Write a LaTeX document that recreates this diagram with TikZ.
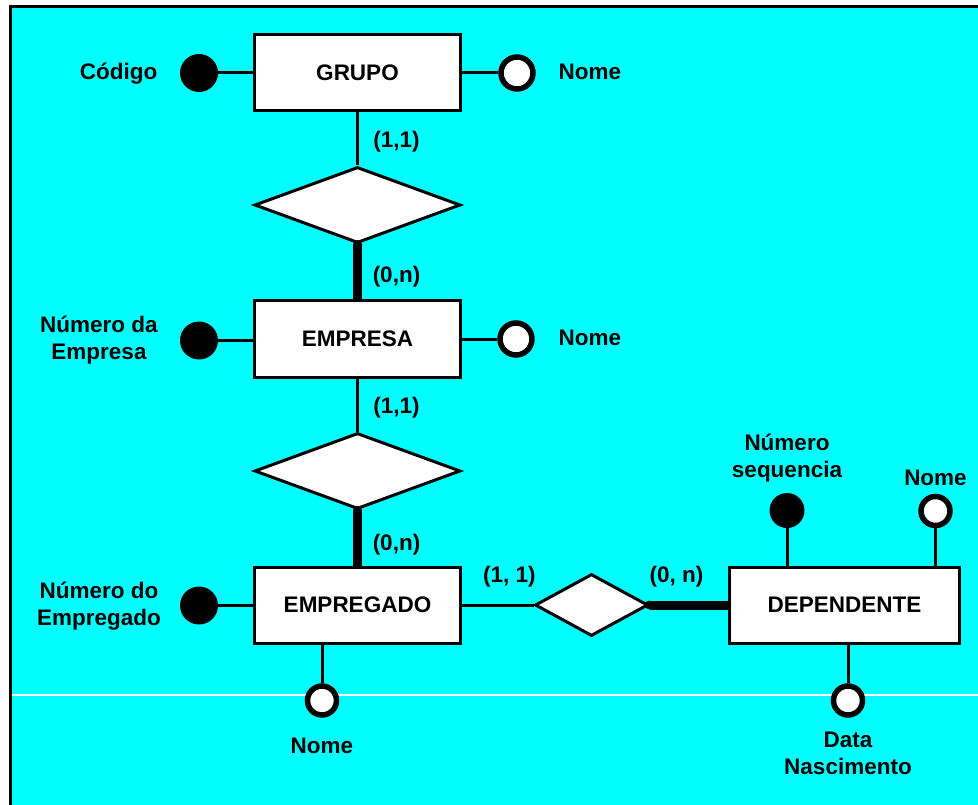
\documentclass[tikz,border=0pt]{standalone}
\usepackage{fontspec}
\setmainfont{Liberation Sans}
\usetikzlibrary{shapes.geometric}
\definecolor{canvas}{RGB}{0,255,255}
\newcommand{\stacked}[2]{\begin{tabular}[t]{@{}c@{}}#1\\#2\end{tabular}}

\begin{document}
\begin{tikzpicture}[x=1pt,y=-1pt,
  every node/.style={font=\fontsize{22.5}{27}\selectfont\bfseries, inner sep=0pt},
  entity/.style={draw, line width=3pt, fill=white, minimum height=76pt},
  relation/.style={draw, diamond, line width=3pt, fill=white},
  keyattr/.style={circle, fill=black, minimum size=#1},
  plainattr/.style={circle, draw, line width=5.5pt, fill=white, minimum size=#1},
  link/.style={line width=3pt},
  heavylink/.style={line width=9pt, line cap=butt},
  txt/.style={anchor=base}]

\useasboundingbox (0,0) rectangle (978,805);

% sheet: cyan canvas with a frame on the left and top
\fill[white] (0,0) rectangle (978,805);
\fill[canvas] (12,8) rectangle (978,805);
\draw[white, line width=1.5pt] (12,695) -- (978,695);
\draw[line width=3pt] (10.5,805) -- (10.5,6.5) -- (978,6.5);

% entities
\node[entity, minimum width=206pt] (grupo) at (357.5,72.5) {GRUPO};
\node[entity, minimum width=206pt] (empresa) at (357.5,339) {EMPRESA};
\node[entity, minimum width=206pt] (empregado) at (357.5,605) {EMPREGADO};
\node[entity, minimum width=230pt] (dependente) at (844.5,605) {DEPENDENTE};

% relationships
\node[relation, minimum width=206pt, minimum height=76pt] (rel1) at (357.5,205) {};
\node[relation, minimum width=206pt, minimum height=76pt] (rel2) at (357.5,471) {};
\node[relation, minimum width=113pt, minimum height=62pt] (rel3) at (591.5,605) {};

% attributes
\node[keyattr=38pt] (acod) at (199,73) {};
\node[plainattr=32pt] (anome1) at (517,73) {};
\node[keyattr=38pt] (anumemp) at (199,340.5) {};
\node[plainattr=32pt] (anome2) at (516,339) {};
\node[keyattr=38pt] (anumfunc) at (199,605.5) {};
\node[plainattr=29pt] (anome3) at (322,700.5) {};
\node[keyattr=35pt] (aseq) at (787,510.5) {};
\node[plainattr=29pt] (anome4) at (935.5,511) {};
\node[plainattr=29pt] (adata) at (848,700.5) {};

% attribute connectors
\draw[link] (acod) -- (acod -| grupo.west);
\draw[link] (anome1) -- (anome1 -| grupo.east);
\draw[link] (anumemp) -- (anumemp -| empresa.west);
\draw[link] (anome2) -- (anome2 -| empresa.east);
\draw[link] (anumfunc) -- (anumfunc -| empregado.west);
\draw[link] (anome3) -- (anome3 |- empregado.south);
\draw[link] (aseq) -- (aseq |- dependente.north);
\draw[link] (anome4) -- (anome4 |- dependente.north);
\draw[link] (adata) -- (adata |- dependente.south);

% relationship connectors (heavy ones rounded at the diamond end)
\draw[link] (grupo.south) -- (rel1.north);
\draw[heavylink] (rel1.south) -- (empresa.north);
\fill (rel1.south) circle[radius=4.5pt];
\draw[link] (empresa.south) -- (rel2.north);
\draw[heavylink] (rel2.south) -- (empregado.north);
\fill (rel2.south) circle[radius=4.5pt];
\draw[link] (empregado.east) -- (rel3.west);
\draw[heavylink] (rel3.east) -- (dependente.west);
\fill (rel3.east) circle[radius=4.5pt];

% attribute names
\node[txt] (lcod) at (118.5,80) {Código};
\node[txt] (lnome1) at (590,80) {Nome};
\node[txt] (lnumemp) at (99,333) {\stacked{Número da}{Empresa}};
\node[txt] (lnome2) at (590,345) {Nome};
\node[txt] (lnumfunc) at (99,598) {\stacked{Número do}{Empregado}};
\node[txt] (lnome3) at (322,753) {Nome};
\node[txt] (lseq) at (787,450) {\stacked{Número}{sequencia}};
\node[txt] (lnome4) at (935.5,485) {Nome};
\node[txt] (ldata) at (848,747) {\stacked{Data}{Nascimento}};

% cardinalities
\node[txt] (c1) at (396.5,148) {(1,1)};
\node[txt] (c2) at (396.5,283) {(0,n)};
\node[txt] (c3) at (396.5,413) {(1,1)};
\node[txt] (c4) at (396.5,550) {(0,n)};
\node[txt] (c5) at (509.5,582) {(1, 1)};
\node[txt] (c6) at (676.5,582) {(0, n)};
\end{tikzpicture}
\end{document}
